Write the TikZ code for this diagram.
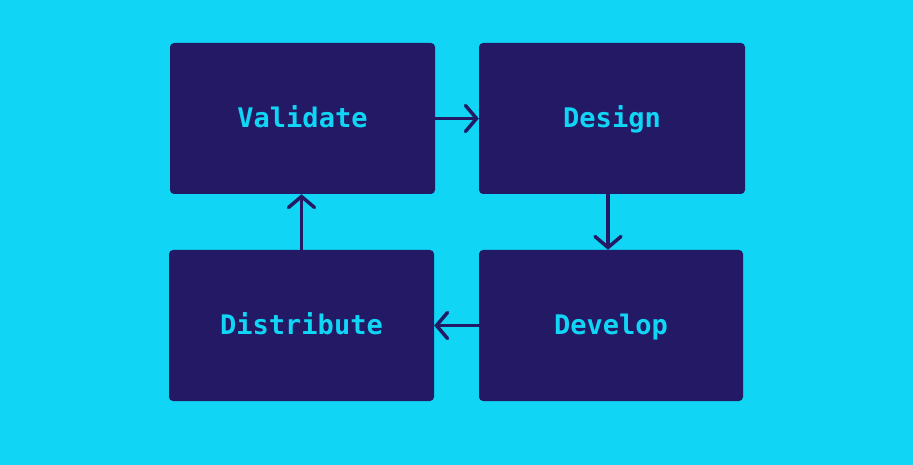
\documentclass[tikz,border=0pt]{standalone}
\usepackage{fontspec}
\setmonofont{DejaVu Sans Mono}
\usetikzlibrary{arrows.meta}
\definecolor{skyback}{HTML}{10D5F5}
\definecolor{navybox}{HTML}{231965}

\begin{document}
\begin{tikzpicture}[x=1pt, y=-1pt,
    stage node/.style={fill=navybox, rounded corners=4pt, minimum width=265pt, minimum height=151pt,
        inner sep=0pt, text height=24pt, text depth=6pt, text=skyback,
        font=\ttfamily\bfseries\fontsize{27}{31}\selectfont},
    flow/.style={draw=navybox, line width=3.5pt, line cap=round,
        -{Straight Barb[length=11pt, width=26pt, line cap=round, line width=3.5pt]}}]
    \fill[skyback] (0,0) rectangle (913,465);
    \useasboundingbox (0,0) rectangle (913,465);

    \node[stage node] (validate) at (302.5,118.5) {Validate};
    \node[stage node, minimum width=266pt] (design) at (612,118.5) {Design};
    \node[stage node] (distribute) at (301.5,325.5) {Distribute};
    \node[stage node, minimum width=264pt] (develop) at (611,325.5) {Develop};

    \draw[flow] (validate) -- (design);
    \draw[flow] ([xshift=-4pt]design.south) -- ([xshift=-4pt]design.south |- develop.north);
    \draw[flow] (develop) -- (distribute);
    \draw[flow] (distribute) -- (distribute |- validate.south);
\end{tikzpicture}
\end{document}
